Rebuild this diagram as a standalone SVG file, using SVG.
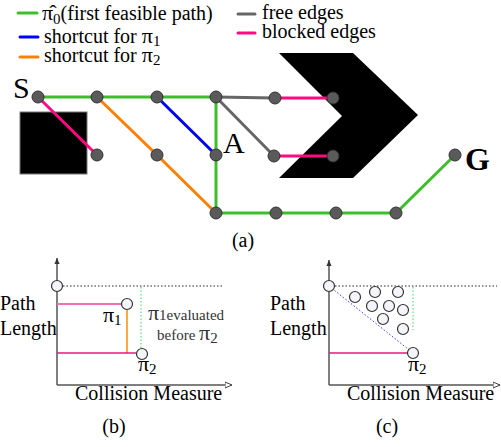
<svg xmlns="http://www.w3.org/2000/svg" width="501" height="447" viewBox="0 0 501 447" font-family="'Liberation Serif', 'DejaVu Serif', serif">
<style>
text, tspan {font-family:'Liberation Serif', 'DejaVu Serif', serif}
text{fill:#000}
.lg{font-size:20px}
.big{font-size:30px}
.e{fill:none;stroke-width:3;stroke-linecap:round}
.g{stroke:#3cbf2a}.b{stroke:#0000ff}.o{stroke:#ff8000}.k{stroke:#666}.p{stroke:#ff0a80}
.n{fill:#5a5a5a;stroke:#333;stroke-width:1}
.pc{fill:#f4f5fa;stroke:#333;stroke-width:1.2}
.ax{stroke:#555;stroke-width:1.5;fill:none}
.sub{font-size:15px}
.pi{font-size:22px}
.gr{fill:#333}
</style>
<defs>
<marker id="ar" viewBox="0 0 8 8" refX="7" refY="4" markerWidth="8" markerHeight="8" markerUnits="userSpaceOnUse" orient="auto">
<path d="M0,1 L7,4 L0,7 z" fill="#fff" stroke="#444" stroke-width="1"/>
</marker>
<marker id="ar2" viewBox="0 0 8 8" refX="7" refY="4" markerWidth="7" markerHeight="7" markerUnits="userSpaceOnUse" orient="auto">
<path d="M0,1 L7,4 L0,7 z" fill="#333"/>
</marker>
</defs>
<rect width="501" height="447" fill="#fff"/>

<g id="legend">
<line x1="18" y1="13" x2="37" y2="13" class="e g"/>
<text x="42" y="20" class="lg"><tspan class="pi">π̂</tspan><tspan class="sub" dy="4">0</tspan><tspan dy="-4">(first feasible path)</tspan></text>
<line x1="20" y1="37" x2="38" y2="37" class="e b"/>
<text x="44" y="43" class="lg">shortcut for <tspan class="pi">π</tspan><tspan class="sub" dy="3">1</tspan></text>
<line x1="20" y1="57" x2="38" y2="57" class="e o"/>
<text x="44" y="62" class="lg">shortcut for <tspan class="pi">π</tspan><tspan class="sub" dy="3">2</tspan></text>
<line x1="238" y1="14" x2="255" y2="14" class="e k"/>
<text x="262" y="19" class="lg">free edges</text>
<line x1="238" y1="33" x2="255" y2="33" class="e p"/>
<text x="262" y="38" class="lg">blocked edges</text>
</g>

<g id="obstacles">
<rect x="20" y="112" width="67" height="62" fill="#000" stroke="#777" stroke-width="1"/>
<polygon points="279,53 353,53 418,115 353,178 279,178 342,116" fill="#000"/>
</g>

<g id="connectors">
<polyline points="38,97 97,97 157,97 216,97 216,155 216,213 276,213 336,213 396,213 455,155" class="e g"/>
<line x1="38" y1="97" x2="97" y2="155" class="e p"/>
<line x1="275" y1="98" x2="333" y2="98" class="e p"/>
<line x1="274" y1="156" x2="333" y2="156" class="e p"/>
<polyline points="97,97 157,155 216,213" class="e o"/>
<line x1="157" y1="97" x2="216" y2="155" class="e b"/>
<line x1="216" y1="97" x2="275" y2="98" class="e k"/>
<line x1="216" y1="97" x2="274" y2="156" class="e k"/>
</g>

<g id="nodes">
<g id="node-S"><circle cx="38" cy="97" r="6" class="n"/><text x="13" y="98" class="big">S</text></g>
<g id="node-2"><circle cx="97" cy="97" r="6" class="n"/></g>
<g id="node-3"><circle cx="157" cy="97" r="6" class="n"/></g>
<g id="node-4"><circle cx="216" cy="97" r="6" class="n"/></g>
<g id="node-5"><circle cx="275" cy="98" r="6" class="n"/></g>
<g id="node-6"><circle cx="333" cy="98" r="6" class="n"/></g>
<g id="node-7"><circle cx="97" cy="155" r="6" class="n"/></g>
<g id="node-8"><circle cx="157" cy="155" r="6" class="n"/></g>
<g id="node-A"><circle cx="216" cy="155" r="6" class="n"/><text x="223" y="153" class="big">A</text></g>
<g id="node-9"><circle cx="274" cy="156" r="6" class="n"/></g>
<g id="node-10"><circle cx="333" cy="156" r="6" class="n"/></g>
<g id="node-11"><circle cx="216" cy="213" r="6" class="n"/></g>
<g id="node-12"><circle cx="276" cy="213" r="6" class="n"/></g>
<g id="node-13"><circle cx="336" cy="213" r="6" class="n"/></g>
<g id="node-14"><circle cx="396" cy="213" r="6" class="n"/></g>
<g id="node-G"><circle cx="455" cy="155" r="6" class="n"/><text x="465" y="170" font-size="32" font-weight="bold">G</text></g>
</g>
<text x="243" y="247" class="lg" text-anchor="middle">(a)</text>

<g id="plot-b">
<line x1="57" y1="385" x2="57" y2="258" class="ax" marker-end="url(#ar2)"/>
<line x1="57" y1="385" x2="232" y2="385" class="ax" marker-end="url(#ar)"/>
<line x1="63" y1="286" x2="222" y2="286" stroke="#222" stroke-width="1" stroke-dasharray="1.5,2"/>
<line x1="141" y1="287" x2="141" y2="348" stroke="#3ad36a" stroke-width="1" stroke-dasharray="1.5,2"/>
<line x1="57" y1="304" x2="121" y2="304" stroke="#f06eb4" stroke-width="2"/>
<line x1="127" y1="310" x2="127" y2="353" stroke="#ff8c00" stroke-width="1.5"/>
<line x1="57" y1="353" x2="136" y2="353" stroke="#e6197d" stroke-width="1.5"/>
<circle cx="57" cy="286" r="5.5" class="pc"/>
<circle cx="127" cy="304" r="5.5" class="pc"/>
<circle cx="142" cy="354" r="5.5" class="pc"/>
<text x="103" y="322" class="lg"><tspan class="pi">π</tspan><tspan class="sub" dy="3">1</tspan></text>
<text x="138" y="371" class="lg"><tspan class="pi">π</tspan><tspan class="sub" dy="3">2</tspan></text>
<text x="148" y="320" class="gr"><tspan class="pi">π</tspan><tspan class="sub">1</tspan><tspan font-size="15">evaluated</tspan></text>
<text x="157" y="340" font-size="15" class="gr">before <tspan class="pi">π</tspan><tspan class="sub" dy="3">2</tspan></text>
<text x="0" y="310" class="lg">Path</text>
<text x="0" y="335" class="lg">Length</text>
<text x="75" y="400" class="lg">Collision Measure</text>
<text x="114" y="433" class="lg" text-anchor="middle">(b)</text>
</g>

<g id="plot-c">
<line x1="329" y1="385" x2="329" y2="260" class="ax" marker-end="url(#ar2)"/>
<line x1="329" y1="385" x2="500" y2="385" class="ax" marker-end="url(#ar)"/>
<line x1="335" y1="286" x2="497" y2="286" stroke="#222" stroke-width="1" stroke-dasharray="1.5,2"/>
<line x1="413" y1="287" x2="413" y2="330" stroke="#3ad36a" stroke-width="1" stroke-dasharray="1.5,2"/>
<line x1="329" y1="286" x2="413" y2="353" stroke="#3344ee" stroke-width="1" stroke-dasharray="1.5,2"/>
<line x1="329" y1="353" x2="407" y2="353" stroke="#e6197d" stroke-width="1.5"/>
<circle cx="329" cy="286" r="5.5" class="pc"/>
<circle cx="413" cy="353" r="5.5" class="pc"/>
<circle cx="355" cy="297" r="5.5" class="pc"/>
<circle cx="375" cy="292" r="5.5" class="pc"/>
<circle cx="398" cy="292" r="5.5" class="pc"/>
<circle cx="372" cy="306" r="5.5" class="pc"/>
<circle cx="389" cy="306" r="5.5" class="pc"/>
<circle cx="403" cy="310" r="5.5" class="pc"/>
<circle cx="383" cy="319" r="5.5" class="pc"/>
<circle cx="403" cy="329" r="5.5" class="pc"/>
<text x="408" y="371" class="lg"><tspan class="pi">π</tspan><tspan class="sub" dy="3">2</tspan></text>
<text x="270" y="310" class="lg">Path</text>
<text x="270" y="335" class="lg">Length</text>
<text x="347" y="400" class="lg">Collision Measure</text>
<text x="387" y="433" class="lg" text-anchor="middle">(c)</text>
</g>
</svg>
